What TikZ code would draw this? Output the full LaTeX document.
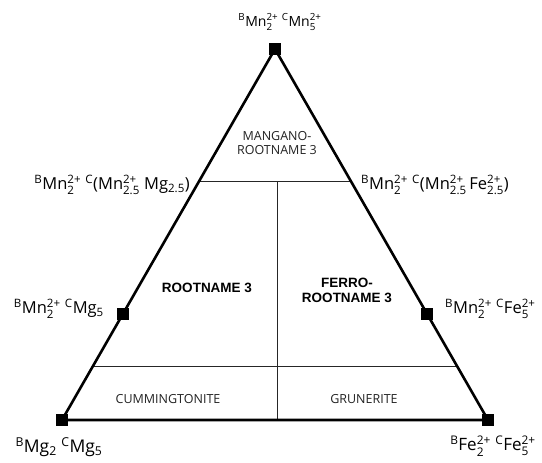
\documentclass[tikz,border=0pt]{standalone}
\usepackage{amsmath}
\usepackage{fontspec}
\setmainfont{Open Sans}
\newfontfamily\arialbold{Liberation Sans}
\usepackage{tikz}
\usetikzlibrary{calc}
\definecolor{fieldgray}{HTML}{222222}
\newcommand{\ion}[3]{#1$^{\text{#3}}_{\text{#2}}$}

\begin{document}
\begin{tikzpicture}[x=1pt,y=-1pt,
  corner/.style={rectangle,fill=black,minimum size=12pt,inner sep=0pt},
  endlab/.style={font=\fontsize{16.5}{18}\selectfont,inner sep=0pt},
  fieldlab/.style={font=\fontsize{12.5}{14.5}\selectfont,text=fieldgray,align=center},
  boldlab/.style={font=\arialbold\bfseries\fontsize{13.5}{15}\selectfont,align=center}]
  \useasboundingbox (0,0) rectangle (542,463);
  % end members
  \coordinate (mn) at (275,49);
  \coordinate (mg) at (62,420);
  \coordinate (fe) at (488,420);
  \coordinate (mnmg) at ($(mg)!0.286!(mn)$);
  \coordinate (mnfe) at ($(fe)!0.286!(mn)$);
  % field boundaries
  \coordinate (upl) at ($(mg)!0.644!(mn)$);
  \coordinate (upr) at ($(fe)!0.644!(mn)$);
  \coordinate (lol) at ($(mg)!0.143!(mn)$);
  \coordinate (lor) at ($(fe)!0.143!(mn)$);
  \coordinate (upm) at (277,181);
  \coordinate (bot) at (277,420);
  \draw[line width=1pt,black!85] (upl) -- (upr);
  \draw[line width=1pt,black!85] (lol) -- (lor);
  \draw[line width=1pt,black!85] (upm) -- (bot);
  \draw[line width=2.6pt,line join=miter] (mn) -- (mg) -- (fe) -- cycle;
  \foreach \c in {mn,mg,fe,mnmg,mnfe}
    \node[corner] (\c-sq) at (\c) {};
  % compositions
  \node[endlab,font=\fontsize{14}{16}\selectfont] (lab-mn) at (280,22) {\textsuperscript{B}\ion{Mn}{2}{2+} \textsuperscript{C}\ion{Mn}{5}{2+}};
  \node[endlab,anchor=east] (lab-upl) at (190,185) {\textsuperscript{B}\ion{Mn}{2}{2+} \textsuperscript{C}(\ion{Mn}{2.5}{2+} Mg$_{\text{2.5}}$)};
  \node[endlab,anchor=west] (lab-upr) at (361,185) {\textsuperscript{B}\ion{Mn}{2}{2+} \textsuperscript{C}(\ion{Mn}{2.5}{2+}\,\ion{Fe}{2.5}{2+})};
  \node[endlab,anchor=east] (lab-mnmg) at (104,309) {\textsuperscript{B}\ion{Mn}{2}{2+} \textsuperscript{C}Mg$_{\text{5}}$};
  \node[endlab,anchor=west] (lab-mnfe) at (445,309) {\textsuperscript{B}\ion{Mn}{2}{2+} \textsuperscript{C}\ion{Fe}{5}{2+}};
  \node[endlab,font=\fontsize{17.5}{19}\selectfont] (lab-mg) at (59,447) {\textsuperscript{B}Mg$_{\text{2}}$ \textsuperscript{C}Mg$_{\text{5}}$};
  \node[endlab,font=\fontsize{17}{19}\selectfont] (lab-fe) at (493,446) {\textsuperscript{B}\ion{Fe}{2}{2+} \textsuperscript{C}\ion{Fe}{5}{2+}};
  % fields
  \node[fieldlab] (f-mangano) at (277,143) {MANGANO-\\ROOTNAME 3};
  \node[boldlab] (f-root) at (207,288) {ROOTNAME 3};
  \node[boldlab] (f-ferro) at (347,290) {FERRO-\\ROOTNAME 3};
  \node[fieldlab] (f-cumm) at (168,399) {CUMMINGTONITE};
  \node[fieldlab] (f-grun) at (364,399) {GRUNERITE};
\end{tikzpicture}
\end{document}
